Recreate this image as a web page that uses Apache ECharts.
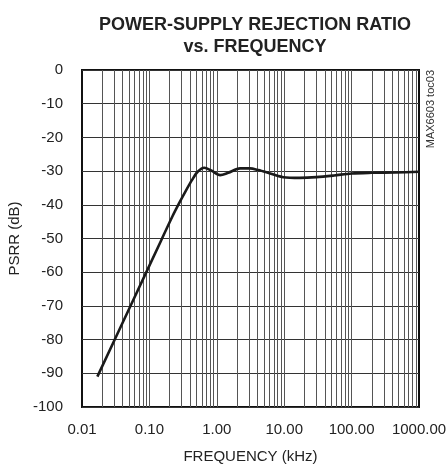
<!DOCTYPE html>
<html><head><meta charset="utf-8">
<script src="https://cdn.jsdelivr.net/npm/echarts@6/dist/echarts.min.js"></script>
<style>html,body{margin:0;padding:0;background:#fff}#c{width:448px;height:471px}</style>
</head><body><div id="c"></div>
<script>
const freqKHz = [0.0169, 0.06, 0.15, 0.22, 0.28, 0.35, 0.43, 0.52, 0.65, 0.84, 1.12, 1.48, 2.21, 3.1, 4.13, 6.2, 9.7, 17, 30, 55, 100, 200, 450, 1000];
const psrrDb = [-91, -67.5, -50.5, -43.4, -39.3, -35.7, -32.6, -30.2, -29.0, -29.9, -31.2, -30.5, -29.2, -29.2, -29.7, -30.7, -31.8, -32.0, -31.8, -31.3, -30.7, -30.5, -30.4, -30.2];
const decades = [0.01, 0.1, 1, 10, 100];
const minorMult = [2, 3, 4, 5, 6, 7, 8, 9];
const titleLines = ['POWER-SUPPLY REJECTION RATIO', 'vs. FREQUENCY'];
const xName = 'FREQUENCY (kHz)';
const yName = 'PSRR (dB)';
const tocLabel = 'MAX6603 toc03';

const FONT = '"Liberation Sans", Arial, sans-serif';
const gridLines = [];
decades.forEach(d => minorMult.forEach(m => gridLines.push({ xAxis: +(d * m).toPrecision(6) })));
decades.slice(1).forEach(d => gridLines.push({ xAxis: d }));

const chart = echarts.init(document.getElementById('c'), null, { renderer: 'canvas' });
chart.setOption({
  animation: false,
  title: {
    text: titleLines.join('\n'), left: 250, top: 9, textAlign: 'center',
    textStyle: { fontFamily: FONT, fontWeight: 'bold', fontSize: 18, lineHeight: 22, color: '#222' }
  },
  grid: { left: 82, right: 29, top: 70, bottom: 64, show: true, borderColor: '#111', borderWidth: 2, backgroundColor: 'transparent', outerBoundsMode: 'none', containLabel: false },
  xAxis: {
    type: 'log', logBase: 10, min: 0.01, max: 1000,
    name: xName, nameLocation: 'middle', nameGap: 42,
    nameTextStyle: { fontFamily: FONT, fontSize: 15, color: '#222' },
    axisLine: { show: false }, axisTick: { show: false },
    axisLabel: { fontFamily: FONT, fontSize: 15, color: '#222', margin: 15, formatter: v => Number(v).toFixed(2) },
    splitLine: { show: false }
  },
  yAxis: {
    type: 'value', min: -100, max: 0, interval: 10,
    name: yName, nameLocation: 'middle', nameGap: 50,
    nameTextStyle: { fontFamily: FONT, fontSize: 15, color: '#222' },
    axisLine: { show: false }, axisTick: { show: false },
    axisLabel: { fontFamily: FONT, fontSize: 15, color: '#222', margin: 19 },
    splitLine: { show: true, lineStyle: { color: '#333', width: 1 } }
  },
  series: [{
    type: 'line', data: freqKHz.map((f, i) => [f, psrrDb[i]]),
    smooth: 0.3, symbol: 'none',
    lineStyle: { color: '#1a1a1a', width: 2.6 },
    z: 5,
    markLine: {
      silent: true, symbol: 'none', label: { show: false },
      lineStyle: { color: '#555', width: 1, type: 'solid' },
      data: gridLines, z: 1
    }
  }],
  graphic: [{
    type: 'text', x: 436, y: 70, rotation: Math.PI / 2,
    style: { text: tocLabel, fontFamily: FONT, fontSize: 11, fill: '#333', textAlign: 'right', textVerticalAlign: 'bottom' }
  }]
});
</script></body></html>
